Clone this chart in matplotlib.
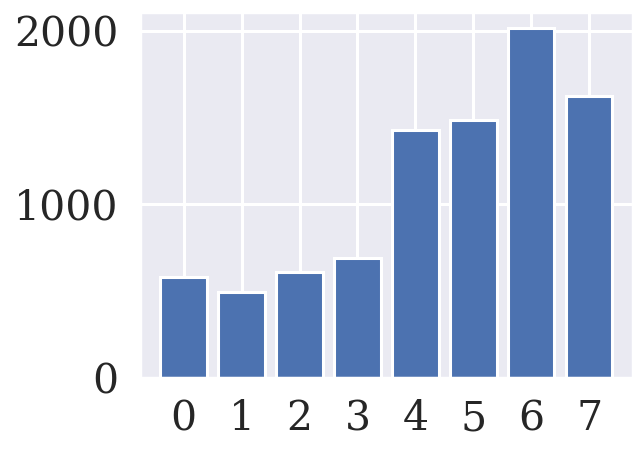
import matplotlib
matplotlib.use("Agg")
import matplotlib.pyplot as plt
import seaborn as sns

# bar heights
categories = [0, 1, 2, 3, 4, 5, 6, 7]
values = [582, 497, 612, 693, 1431, 1488, 2018, 1627]

sns.set_theme(style="darkgrid", context="poster")
plt.rcParams['font.family'] = ['DejaVu Serif']

fig, ax = plt.subplots(figsize=(6.43, 4.51), dpi=100)
fig.subplots_adjust(left=0.218, right=0.984, top=0.973, bottom=0.162)

ax.bar(categories, values, width=0.8, color="#4C72B0", edgecolor="white", linewidth=2.2)

ax.set_xticks(categories)
ax.set_yticks([0, 1000, 2000])
ax.set_xlim(-0.75, 7.75)
ax.set_ylim(0, 2107)
ax.tick_params(labelsize=29.5)
ax.grid(True, color="white", linewidth=2.2)

fig.savefig("out.png", dpi=100)
